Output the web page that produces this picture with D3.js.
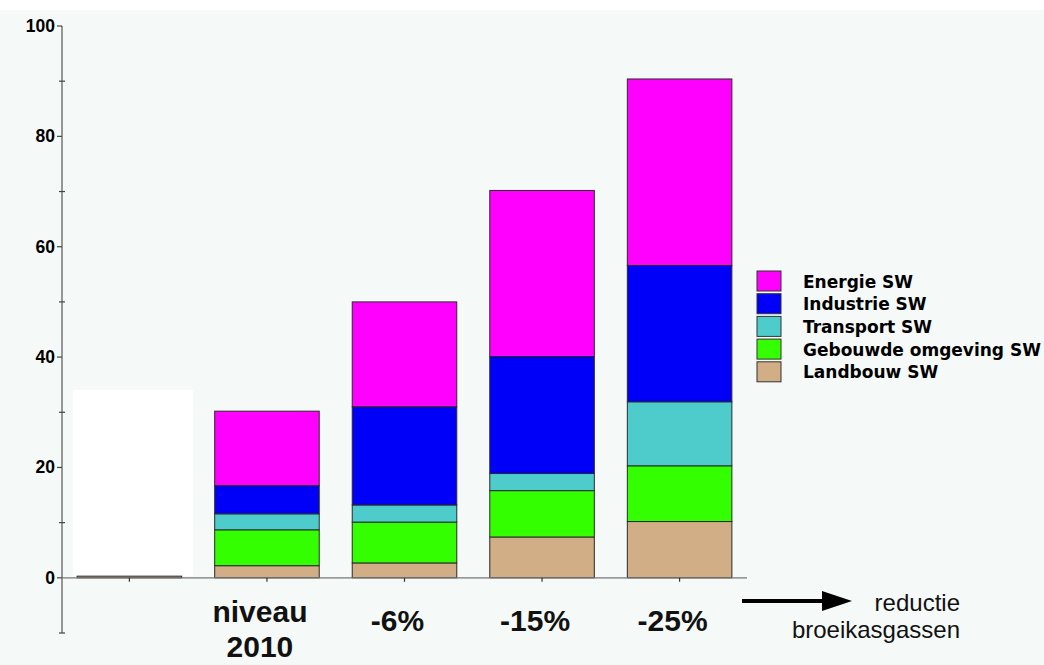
<!DOCTYPE html>
<html>
<head>
<meta charset="utf-8">
<script src="https://cdn.jsdelivr.net/npm/d3@7"></script>
<style>
  html, body { margin: 0; padding: 0; background: #ffffff; }
  svg { display: block; }
</style>
</head>
<body>
<svg id="chart" width="1044" height="665"></svg>
<script>
// Categories along the x axis (first slot is unlabeled)
const categories = ["", "niveau 2010", "-6%", "-15%", "-25%"];

// Series values per category, stacked bottom to top
const landbouw  = [0.3, 2.2, 2.7, 7.4, 10.2];
const gebouwde  = [0,   6.5, 7.4, 8.4, 10.1];
const transport = [0,   2.9, 3.1, 3.1, 11.6];
const industrie = [0,   5.1, 17.8, 21.2, 24.7];
const energie   = [0,   13.5, 19.0, 30.1, 33.8];

const seriesKeys   = ["Landbouw SW", "Gebouwde omgeving SW", "Transport SW", "Industrie SW", "Energie SW"];
const seriesColors = ["#d2ae86", "#33ff00", "#4ecccc", "#0000f8", "#ff00ff"];

const majorTicks = [0, 20, 40, 60, 80, 100];
const minorTicks = [-10, 10, 30, 50, 70, 90];

const rows = categories.map((c, i) => ({
  cat: c,
  "Landbouw SW": landbouw[i],
  "Gebouwde omgeving SW": gebouwde[i],
  "Transport SW": transport[i],
  "Industrie SW": industrie[i],
  "Energie SW": energie[i]
}));

const svg = d3.select("#chart");

// page background
svg.append("rect").attr("x", 0).attr("y", 10).attr("width", 1044).attr("height", 655).attr("fill", "#f5f9f7");

const x = d3.scaleBand().domain(categories).range([62, 747]).paddingInner(0.24).paddingOuter(0.11);
const y = d3.scaleLinear().domain([-10, 100]).range([633, 26]);

// blank panel behind the first slot
svg.append("rect")
  .attr("x", 73).attr("y", 390).attr("width", 120).attr("height", y(0) - 390 - 2)
  .attr("fill", "#ffffff");

const stack = d3.stack().keys(seriesKeys);
const layers = stack(rows);
const color = d3.scaleOrdinal().domain(seriesKeys).range(seriesColors);

// stacked bars
svg.append("g").selectAll("g")
  .data(layers)
  .join("g")
  .attr("fill", d => color(d.key))
  .selectAll("rect")
  .data(d => d.filter(s => s[1] - s[0] > 0))
  .join("rect")
  .attr("x", d => x(d.data.cat))
  .attr("width", x.bandwidth())
  .attr("y", d => y(d[1]))
  .attr("height", d => Math.max(1.5, y(d[0]) - y(d[1])))
  .attr("stroke", "#2a2a2a")
  .attr("stroke-width", 1);

// y axis
const yAxis = svg.append("g").attr("transform", "translate(62,0)");
yAxis.append("line").attr("x1", 0).attr("x2", 0).attr("y1", y(100)).attr("y2", y(-10))
  .attr("stroke", "#555").attr("stroke-width", 1.2);
yAxis.selectAll("line.major").data(majorTicks).join("line")
  .attr("class", "major")
  .attr("x1", -5).attr("x2", 0).attr("y1", d => y(d)).attr("y2", d => y(d))
  .attr("stroke", "#444").attr("stroke-width", 1.2);
yAxis.selectAll("line.minor").data(minorTicks).join("line")
  .attr("class", "minor")
  .attr("x1", -3).attr("x2", 3).attr("y1", d => y(d)).attr("y2", d => y(d))
  .attr("stroke", "#444").attr("stroke-width", 1.2);
yAxis.selectAll("text").data(majorTicks).join("text")
  .attr("x", -7).attr("y", d => y(d) + 6)
  .attr("text-anchor", "end")
  .attr("font-family", "Liberation Sans, Arial, sans-serif")
  .attr("font-weight", "bold").attr("font-size", 17.5)
  .attr("fill", "#000")
  .text(d => d);

// x axis
const xAxis = svg.append("g");
xAxis.append("line").attr("x1", 62).attr("x2", 747).attr("y1", y(0)).attr("y2", y(0))
  .attr("stroke", "#777").attr("stroke-width", 1.2);
xAxis.selectAll("line.tick").data(categories).join("line")
  .attr("class", "tick")
  .attr("x1", d => x(d) + x.bandwidth() / 2).attr("x2", d => x(d) + x.bandwidth() / 2)
  .attr("y1", y(0)).attr("y2", y(0) + 4)
  .attr("stroke", "#333").attr("stroke-width", 1.2);

// category labels, set slightly left of each bar centre
const labelG = svg.append("g")
  .attr("font-family", "Liberation Sans, Arial, sans-serif")
  .attr("font-weight", "bold").attr("font-size", 30).attr("fill", "#111")
  .attr("text-anchor", "middle");
categories.forEach(c => {
  const cx = x(c) + x.bandwidth() / 2 - 7;
  const parts = c.split(" ");
  if (parts.length > 1) {
    labelG.append("text").attr("x", cx).attr("y", 622).text(parts[0]);
    labelG.append("text").attr("x", cx).attr("y", 657).text(parts[1]);
  } else if (c) {
    labelG.append("text").attr("x", cx).attr("y", 631).text(c);
  }
});

// legend
const legendOrder = seriesKeys.slice().reverse();
const legend = svg.append("g").attr("transform", "translate(757,271)");
legendOrder.forEach((k, i) => {
  const g = legend.append("g").attr("transform", `translate(0,${i * 22.7})`);
  g.append("rect").attr("width", 24).attr("height", 20)
    .attr("fill", color(k)).attr("stroke", "#333").attr("stroke-width", 1);
  g.append("text").attr("x", 46).attr("y", 16.5)
    .attr("font-family", "DejaVu Sans, Verdana, sans-serif")
    .attr("font-weight", "bold").attr("font-size", 17).attr("fill", "#000")
    .text(k);
});

// reduction arrow and caption
svg.append("line").attr("x1", 742).attr("x2", 826).attr("y1", 601).attr("y2", 601)
  .attr("stroke", "#000").attr("stroke-width", 4);
svg.append("path").attr("d", "M822,591 L852,601 L822,611 Z").attr("fill", "#000");
const cap = svg.append("g")
  .attr("font-family", "Liberation Sans, Arial, sans-serif")
  .attr("font-size", 24).attr("fill", "#111").attr("text-anchor", "end");
cap.append("text").attr("x", 960).attr("y", 611).text("reductie");
cap.append("text").attr("x", 960).attr("y", 638).text("broeikasgassen");
</script>
</body>
</html>
